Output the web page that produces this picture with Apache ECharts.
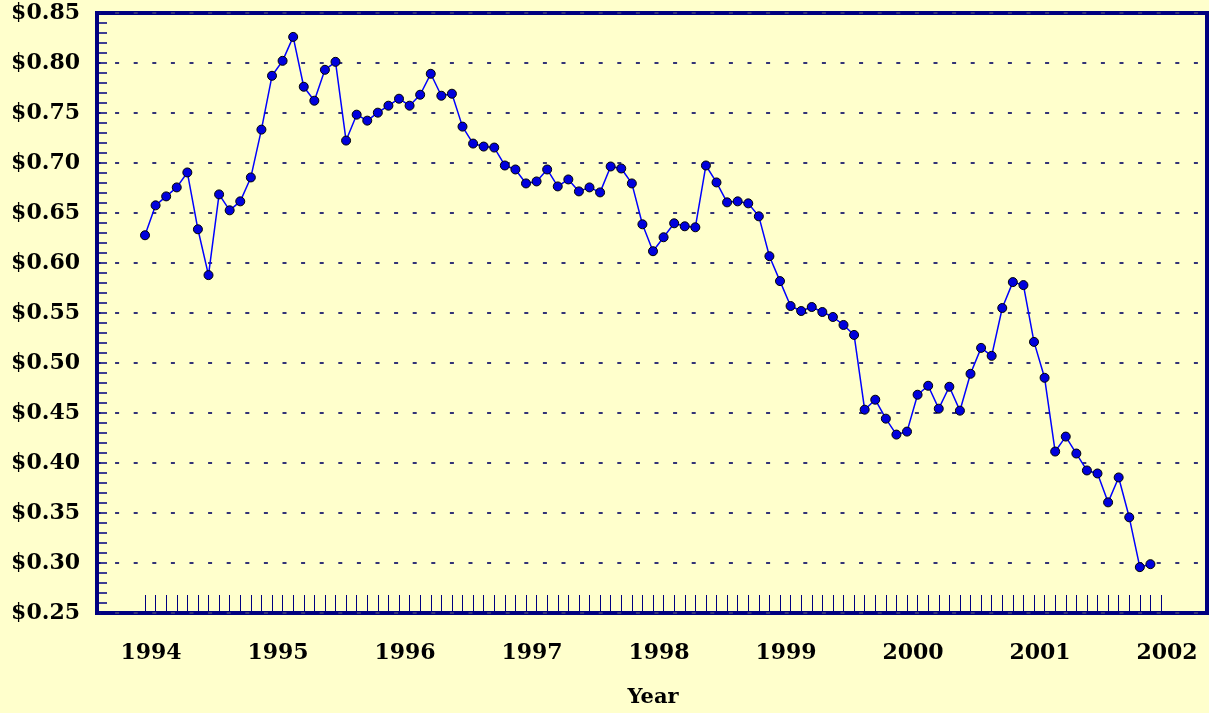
<!DOCTYPE html>
<html>
<head>
<meta charset="utf-8">
<script src="https://cdn.jsdelivr.net/npm/echarts@6/dist/echarts.min.js"></script>
<style>
html,body{margin:0;padding:0;background:#ffffcc;}
#chart{width:1209px;height:713px;}
</style>
</head>
<body>
<div id="chart"></div>
<script>
// Monthly values, Jan 1994 .. Dec 2001
const prices = [
  0.627,0.657,0.666,0.675,0.690,0.633,0.587,0.668,0.652,0.661,0.685,0.733,
  0.787,0.802,0.826,0.776,0.762,0.793,0.801,0.722,0.748,0.742,0.750,0.757,
  0.764,0.757,0.768,0.789,0.767,0.769,0.736,0.719,0.716,0.715,0.697,0.693,
  0.679,0.681,0.693,0.676,0.683,0.671,0.675,0.670,0.696,0.694,0.679,0.638,
  0.611,0.625,0.639,0.636,0.635,0.697,0.680,0.660,0.661,0.659,0.646,0.606,
  0.581,0.556,0.551,0.555,0.550,0.545,0.537,0.527,0.452,0.462,0.443,0.427,
  0.430,0.467,0.476,0.453,0.475,0.451,0.488,0.514,0.506,0.554,0.580,0.577,
  0.520,0.484,0.410,0.425,0.408,0.391,0.388,0.359,0.384,0.344,0.294,0.297
];
const yearLabels = ['1994','1995','1996','1997','1998','1999','2000','2001','2002'];
const yMin = 0.25, yMax = 0.85, yStep = 0.05;
const monthsPerYear = 12;

const seriesData = prices.map((v, i) => [i, v]);
const lastMonth = (yearLabels.length - 1) * monthsPerYear;

const navy = '#000080';
const fontFam = '"DejaVu Serif", serif';

const chart = echarts.init(document.getElementById('chart'), null, {renderer: 'canvas'});
chart.setOption({
  backgroundColor: '#ffffcc',
  animation: false,
  grid: [
    {left: 97, right: 2, top: 13, bottom: 100, show: true, borderColor: navy, borderWidth: 4, backgroundColor: 'transparent'},
    {left: 145, right: 48, top: 13, bottom: 100}
  ],
  xAxis: [
    {gridIndex: 0, type: 'value', min: 0, max: 1, show: false},
    {
      gridIndex: 1, type: 'value', min: 0, max: lastMonth, interval: 1,
      axisLine: {show: false},
      axisTick: {show: true, inside: true, length: 16, lineStyle: {color: navy, width: 1}},
      splitLine: {show: false},
      axisLabel: {
        show: true, margin: 31, color: '#000', fontFamily: fontFam, fontWeight: 'bold', fontSize: 22,
        padding: [0, 0, 0, 12],
        formatter: v => (v % monthsPerYear === 0 ? yearLabels[v / monthsPerYear] : '')
      },
      name: 'Year', nameLocation: 'middle', nameGap: 76,
      nameTextStyle: {color: '#000', fontFamily: fontFam, fontWeight: 'bold', fontSize: 21}
    }
  ],
  yAxis: [
    {
      gridIndex: 0, type: 'value', min: yMin, max: yMax, interval: yStep,
      axisLine: {show: true, lineStyle: {color: navy, width: 4}},
      axisTick: {show: true, inside: true, length: 10, lineStyle: {color: navy, width: 1.5}},
      minorTick: {show: true, splitNumber: 5, length: 10, lineStyle: {color: navy, width: 1.5}},
      splitLine: {show: true, lineStyle: {color: '#333377', width: 2, type: [4, 14.6], dashOffset: 0.5}},
      axisLabel: {
        margin: 17, color: '#000', fontFamily: fontFam, fontWeight: 'bold', fontSize: 22,
        formatter: v => '$' + v.toFixed(2)
      }
    },
    {gridIndex: 1, type: 'value', min: yMin, max: yMax, show: false}
  ],
  series: [{
    type: 'line', xAxisIndex: 1, yAxisIndex: 1,
    data: seriesData,
    symbol: 'circle', symbolSize: 9,
    lineStyle: {color: '#0000ff', width: 1.5},
    itemStyle: {color: '#0000dd', borderColor: '#000', borderWidth: 1},
    z: 5
  }]
});
</script>
</body>
</html>
